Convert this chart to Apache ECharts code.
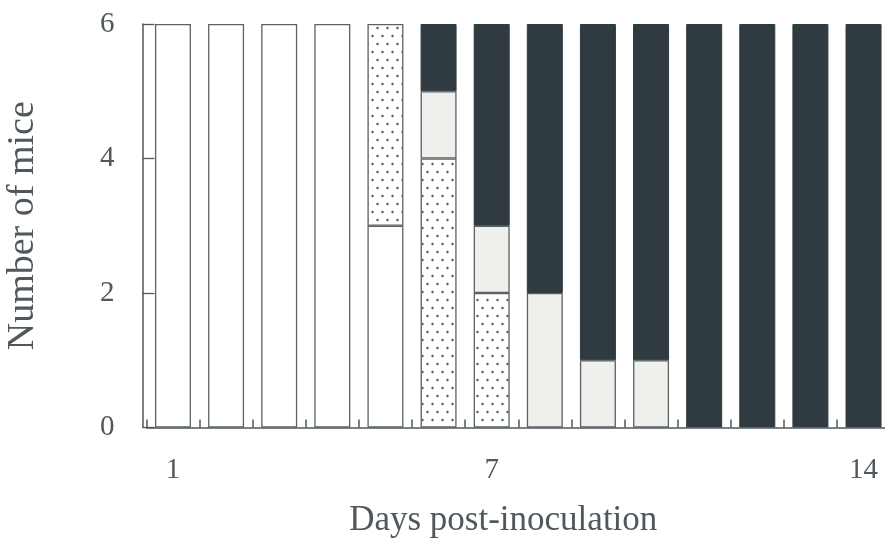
<!DOCTYPE html>
<html><head><meta charset="utf-8">
<script src="https://cdn.jsdelivr.net/npm/echarts@6/dist/echarts.min.js"></script>
<style>html,body{margin:0;padding:0;background:#fff}#c{width:885px;height:544px}</style>
</head><body><div id="c"></div>
<script>
const days = ['1','2','3','4','5','6','7','8','9','10','11','12','13','14'];
const shownLabels = ['1','7','14'];
const yTicks = [0, 2, 4, 6];
const whiteVals  = [6,6,6,6,3,0,0,0,0,0,0,0,0,0];
const dottedVals = [0,0,0,0,3,4,2,0,0,0,0,0,0,0];
const lightVals  = [0,0,0,0,0,1,1,2,1,1,0,0,0,0];
const darkVals   = [0,0,0,0,0,1,3,4,5,5,6,6,6,6];

function dotPattern(){
  const c = document.createElement('canvas');
  c.width = 10; c.height = 16;
  const g = c.getContext('2d');
  g.fillStyle = '#ffffff'; g.fillRect(0,0,10,16);
  g.fillStyle = '#4f585c';
  g.beginPath(); g.arc(2.5,4,1.2,0,Math.PI*2); g.fill();
  g.beginPath(); g.arc(7.5,12,1.2,0,Math.PI*2); g.fill();
  return c;
}

const txt = '#4f585c';
const axisCol = '#4f585c';
const font = 'Liberation Serif';
const chart = echarts.init(document.getElementById('c'));
const border = {borderColor:'#5a6266', borderWidth:1.3};
function mk(name, data, color, extra){
  return {name, type:'bar', stack:'s', data: data.map(v => v === 0 ? '-' : v), barWidth:36,
    itemStyle: Object.assign({color}, extra), animation:false};
}
chart.setOption({
  animation:false,
  grid:{left:146.4, right:-5.1, top:24, bottom:116.5, outerBoundsMode:'none', containLabel:false},
  xAxis:{type:'category', data:days, z:10,
    name:'Days post-inoculation', nameLocation:'middle', nameGap:76,
    nameTextStyle:{fontFamily:font, fontSize:35, color:txt, padding:[0,30,0,0]},
    axisLine:{lineStyle:{color:axisCol, width:1.5}},
    axisTick:{show:true, inside:true, interval:0, length:8, lineStyle:{color:axisCol, width:1.5}},
    axisLabel:{fontFamily:font, fontSize:29, color:txt, margin:28,
      interval:(i,v)=>shownLabels.indexOf(v)>=0}
  },
  yAxis:{type:'value', min:yTicks[0], max:yTicks[yTicks.length-1], interval:2, offset:4,
    name:'Number of mice', nameLocation:'middle', nameGap:100,
    nameTextStyle:{fontFamily:font, fontSize:38, color:txt},
    axisLine:{show:true, lineStyle:{color:axisCol, width:1.5}},
    axisTick:{show:true, inside:true, length:12, lineStyle:{color:axisCol, width:1.3}},
    splitLine:{show:false},
    axisLabel:{fontFamily:font, fontSize:29, color:txt, margin:28}
  },
  series:[
    mk('healthy', whiteVals, '#ffffff', border),
    mk('dotted', dottedVals, {image: dotPattern(), repeat:'repeat'}, border),
    mk('light', lightVals, '#efefec', border),
    mk('dark', darkVals, '#2f3b40', {borderColor:'#2f3b40', borderWidth:1})
  ]
});
</script></body></html>
